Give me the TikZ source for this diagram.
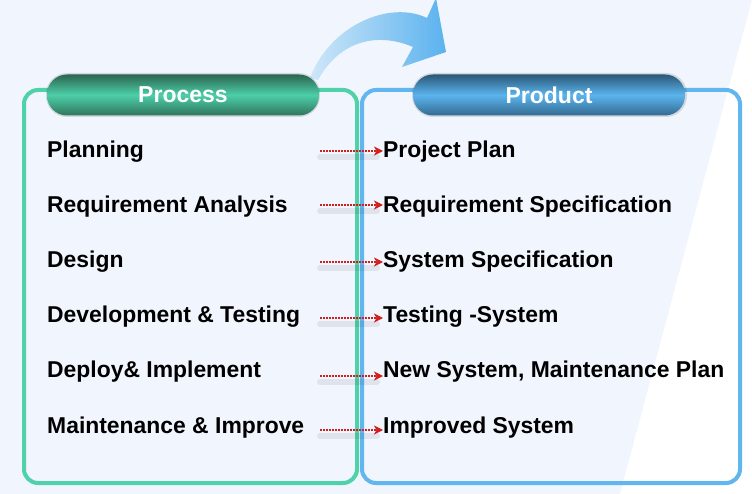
\documentclass[tikz,border=0pt]{standalone}
\usepackage{fontspec}
\setmainfont{Liberation Sans}
\usetikzlibrary{arrows.meta}
\definecolor{bg}{HTML}{F1F5FD}
\definecolor{greenline}{HTML}{4FD1AA}
\definecolor{blueline}{HTML}{62B6F0}
\definecolor{gdark}{HTML}{2C6550}
\definecolor{gmid}{HTML}{4CCFA8}
\definecolor{bdark}{HTML}{2B5878}
\definecolor{bmid}{HTML}{5BB4EE}
\definecolor{arrred}{HTML}{D01F1F}
\definecolor{arrlight}{HTML}{CFE7F9}
\definecolor{arrdark}{HTML}{5AB2EE}
\begin{document}
\begin{tikzpicture}[x=1pt,y=-1pt,
  pill/.style={rectangle, rounded corners=20pt, minimum width=272pt, minimum height=41pt,
    inner sep=0pt, text=white, font=\bfseries\fontsize{23}{27}\selectfont},
  item/.style={anchor=base west, inner sep=0pt, text=black, font=\bfseries\fontsize{22.9}{27}\selectfont},
  dots/.style={arrred, line width=1.6pt, dash pattern=on 1.6pt off 1.4pt,
    -{Stealth[length=9pt,width=9pt,inset=2.5pt]}},
  dshadow/.style={black, opacity=0.07, line width=6pt, line cap=round},
  boxline/.style={line width=4pt, rounded corners=14pt}]
\useasboundingbox (0,0) rectangle (752,494);
\fill[bg] (0,0) rectangle (752,494);
\fill[white] (752,0) -- (752,494) -- (620,494) -- cycle;

% big curved arrow
\shade[left color=arrlight, right color=arrdark]
  (310,78) .. controls (330,25) and (390,0) .. (427,18)
  -- (436,-2) -- (446,52) -- (402,67) -- (413,47)
  .. controls (378,32) and (340,40) .. (318,80) -- cycle;

% boxes
\draw[boxline, greenline] (24,90) rectangle (357,483);
\draw[boxline, blueline] (362,90) rectangle (740,483);

% pills
\fill[black, opacity=0.12, rounded corners=21pt] (46,73) rectangle (320,117);
\fill[black, opacity=0.12, rounded corners=21pt] (412,73) rectangle (687,117);
\node[pill, top color=gdark, bottom color=gdark!85!gmid, middle color=gmid] (process) at (183,95) {Process};
\node[pill, top color=bdark, bottom color=bdark!80!bmid, middle color=bmid] (product) at (549,95) {Product};

% left items
\node[item] (l1) at (47,158) {Planning};
\node[item] (l2) at (47,213) {Requirement Analysis};
\node[item] (l3) at (47,268) {Design};
\node[item] (l4) at (47,323) {Development \& Testing};
\node[item] (l5) at (47,377) {Deploy\& Implement};
\node[item] (l6) at (47,433) {Maintenance \& Improve};

% right items
\node[item] (r1) at (383,158) {Project Plan};
\node[item] (r2) at (383,213) {Requirement Specification};
\node[item] (r3) at (383,268) {System Specification};
\node[item] (r4) at (383,323) {Testing -System};
\node[item] (r5) at (383,377) {New System, Maintenance Plan};
\node[item] (r6) at (383,433) {Improved System};

% arrow starts
\coordinate (s1) at (320,151);
\coordinate (s2) at (320,205);
\coordinate (s3) at (320,262);
\coordinate (s4) at (320,318);
\coordinate (s5) at (320,376);
\coordinate (s6) at (320,430);

\foreach \i in {1,...,6}{
  \draw[dshadow] ([yshift=-6pt]s\i) -- ([yshift=-6pt,xshift=-6pt]s\i -| r\i.west);
  \draw[dots] (s\i) -- (s\i -| r\i.west);
}
\end{tikzpicture}
\end{document}
